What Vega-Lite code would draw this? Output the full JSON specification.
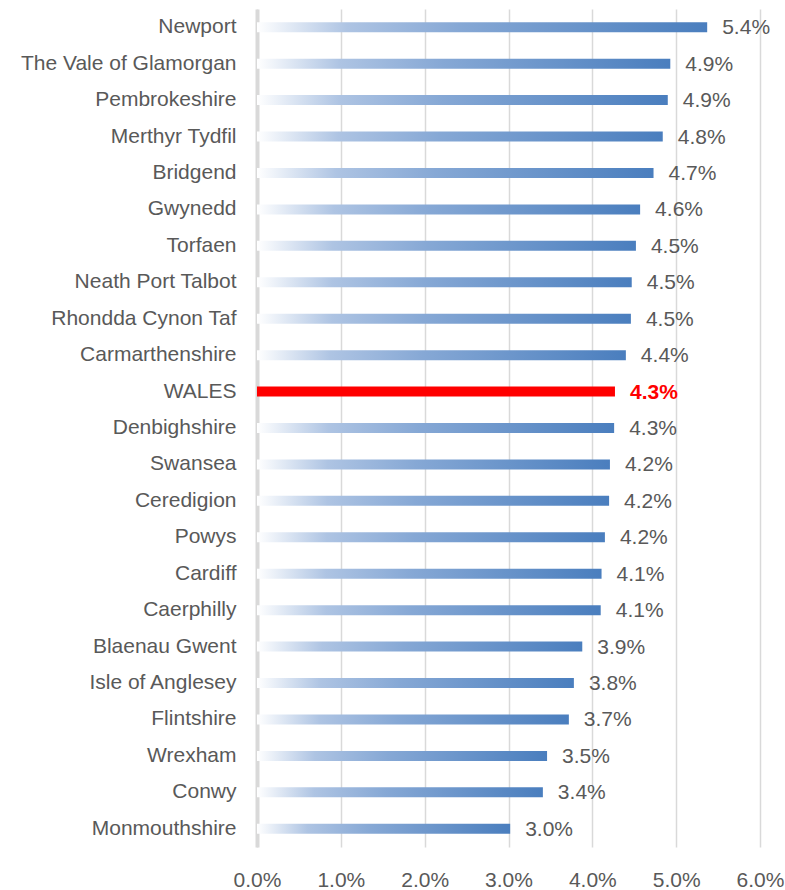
{
  "$schema": "https://vega.github.io/schema/vega-lite/v6.json",
  "width": 503,
  "height": 838,
  "autosize": {"type": "none"},
  "padding": {"left": 257, "top": 9, "right": 25, "bottom": 43},
  "background": "white",
  "config": {"view": {"stroke": null}, "font": "Liberation Sans"},
  "data": {"values": [
    {"area": "Newport", "value": 0.0537},
    {"area": "The Vale of Glamorgan", "value": 0.0493},
    {"area": "Pembrokeshire", "value": 0.0490},
    {"area": "Merthyr Tydfil", "value": 0.0484},
    {"area": "Bridgend", "value": 0.0473},
    {"area": "Gwynedd", "value": 0.0457},
    {"area": "Torfaen", "value": 0.0452},
    {"area": "Neath Port Talbot", "value": 0.0447},
    {"area": "Rhondda Cynon Taf", "value": 0.0446},
    {"area": "Carmarthenshire", "value": 0.0440},
    {"area": "WALES", "value": 0.0427},
    {"area": "Denbighshire", "value": 0.0426},
    {"area": "Swansea", "value": 0.0421},
    {"area": "Ceredigion", "value": 0.0420},
    {"area": "Powys", "value": 0.0415},
    {"area": "Cardiff", "value": 0.0411},
    {"area": "Caerphilly", "value": 0.0410},
    {"area": "Blaenau Gwent", "value": 0.0388},
    {"area": "Isle of Anglesey", "value": 0.0378},
    {"area": "Flintshire", "value": 0.0372},
    {"area": "Wrexham", "value": 0.0346},
    {"area": "Conwy", "value": 0.0341},
    {"area": "Monmouthshire", "value": 0.0302}
  ]},
  "encoding": {
    "y": {
      "field": "area", "type": "nominal",
      "sort": ["Newport", "The Vale of Glamorgan", "Pembrokeshire", "Merthyr Tydfil", "Bridgend", "Gwynedd", "Torfaen", "Neath Port Talbot", "Rhondda Cynon Taf", "Carmarthenshire", "WALES", "Denbighshire", "Swansea", "Ceredigion", "Powys", "Cardiff", "Caerphilly", "Blaenau Gwent", "Isle of Anglesey", "Flintshire", "Wrexham", "Conwy", "Monmouthshire"],
      "scale": {"paddingInner": 0, "paddingOuter": 0},
      "axis": {
        "title": null, "ticks": false, "grid": false,
        "domain": true, "domainColor": "#d9d9d9", "domainWidth": 4,
        "labelFontSize": 21, "labelColor": "#595959", "labelPadding": 21,
        "labelFont": "Liberation Sans", "labelLimit": 400
      }
    },
    "x": {
      "field": "value", "type": "quantitative",
      "scale": {"domain": [0, 0.06], "nice": false},
      "axis": {
        "title": null, "ticks": false, "domain": false,
        "values": [0, 0.01, 0.02, 0.03, 0.04, 0.05, 0.06],
        "format": ".1%", "grid": true, "gridColor": "#d9d9d9", "gridWidth": 1.5,
        "labelFontSize": 21, "labelColor": "#595959", "labelPadding": 22,
        "labelFont": "Liberation Sans", "labelOverlap": false, "labelFlush": false
      }
    }
  },
  "layer": [
    {
      "transform": [{"filter": "datum.area !== 'WALES'"}],
      "mark": {
        "type": "bar", "size": 10,
        "color": {
          "gradient": "linear", "x1": 0, "y1": 0, "x2": 1, "y2": 0,
          "stops": [
            {"offset": 0, "color": "#ffffff"},
            {"offset": 0.2, "color": "#aec4e3"},
            {"offset": 0.45, "color": "#86a8d5"},
            {"offset": 1, "color": "#4a7ebe"}
          ]
        }
      }
    },
    {
      "transform": [{"filter": "datum.area === 'WALES'"}],
      "mark": {"type": "bar", "size": 10, "color": "#ff0000"}
    },
    {
      "transform": [{"filter": "datum.area !== 'WALES'"}],
      "mark": {"type": "text", "align": "left", "baseline": "middle", "dx": 15, "dy": 1, "fontSize": 21, "color": "#595959", "font": "Liberation Sans"},
      "encoding": {"text": {"field": "value", "type": "quantitative", "format": ".1%"}}
    },
    {
      "transform": [{"filter": "datum.area === 'WALES'"}],
      "mark": {"type": "text", "align": "left", "baseline": "middle", "dx": 15, "dy": 1, "fontSize": 21, "fontWeight": "bold", "color": "#ff0000", "font": "Liberation Sans"},
      "encoding": {"text": {"field": "value", "type": "quantitative", "format": ".1%"}}
    }
  ]
}
